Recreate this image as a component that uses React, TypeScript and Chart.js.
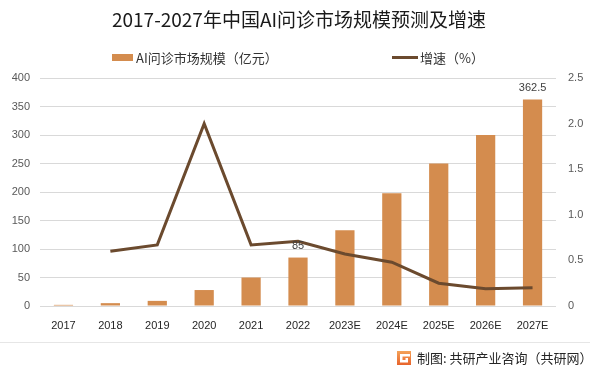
import React, { useEffect, useRef } from "react";
import { Chart, registerables } from "chart.js";

Chart.register(...registerables);

const categories = ["2017", "2018", "2019", "2020", "2021", "2022", "2023E", "2024E", "2025E", "2026E", "2027E"];
const marketSize = [2, 5, 9, 28, 50, 85, 133, 198, 250, 300, 362.5];
const growthRate = [null, 0.6, 0.67, 2.0, 0.67, 0.71, 0.57, 0.48, 0.25, 0.19, 0.2];
const labeledIndices = [5, 10];
const leftTicks = [0, 50, 100, 150, 200, 250, 300, 350, 400];
const rightTicks = [0, 0.5, 1, 1.5, 2, 2.5];

const TITLE = "2017-2027年中国AI问诊市场规模预测及增速";
const BAR_LABEL = "AI问诊市场规模（亿元）";
const LINE_LABEL = "增速（%）";
const SOURCE = "制图: 共研产业咨询（共研网）";

const BAR_COLOR = "#D48C4E";
const LINE_COLOR = "#6B4A2E";
const FONT = "'Noto Sans CJK SC', 'Noto Sans', sans-serif";
const TICK_FONT = "'Liberation Sans', 'Noto Sans CJK SC', sans-serif";

const decorPlugin = {
  id: "decor",
  afterDraw(chart: any) {
    const ctx = chart.ctx as CanvasRenderingContext2D;
    ctx.save();
    // title
    ctx.fillStyle = "#1a1a1a";
    ctx.font = `19px ${FONT}`;
    ctx.textAlign = "center";
    ctx.textBaseline = "middle";
    ctx.fillText(TITLE, 299, 20);

    // legend
    ctx.font = `13px ${FONT}`;
    ctx.textAlign = "left";
    ctx.fillStyle = BAR_COLOR;
    ctx.fillRect(112, 54, 21, 7);
    ctx.fillStyle = "#333";
    ctx.fillText(BAR_LABEL, 136, 58);
    ctx.strokeStyle = LINE_COLOR;
    ctx.lineWidth = 3;
    ctx.beginPath();
    ctx.moveTo(392, 57.5);
    ctx.lineTo(418, 57.5);
    ctx.stroke();
    ctx.fillStyle = "#333";
    ctx.fillText(LINE_LABEL, 420, 58);

    // data labels
    const meta = chart.getDatasetMeta(0);
    ctx.font = `11px ${TICK_FONT}`;
    ctx.fillStyle = "#404040";
    ctx.textAlign = "center";
    ctx.textBaseline = "bottom";
    labeledIndices.forEach((i) => {
      const el = meta.data[i];
      if (!el) return;
      ctx.fillText(String(marketSize[i]), el.x, el.y - 6);
    });

    // footer separator
    ctx.strokeStyle = "#E6E6E6";
    ctx.lineWidth = 1;
    ctx.beginPath();
    ctx.moveTo(0, 342.5);
    ctx.lineTo(590, 342.5);
    ctx.stroke();

    // logo
    const lx = 397, ly = 351;
    const grad = ctx.createLinearGradient(lx, ly, lx, ly + 14);
    grad.addColorStop(0, "#F4A259");
    grad.addColorStop(1, "#E8632B");
    ctx.fillStyle = grad;
    ctx.fillRect(lx, ly, 14, 14);
    ctx.fillStyle = "#fff";
    ctx.fillRect(lx + 3, ly + 3, 10, 2.5);
    ctx.fillRect(lx + 3, ly + 3, 2.5, 8);
    ctx.fillRect(lx + 3, ly + 9, 8, 2.5);
    ctx.fillRect(lx + 8.5, ly + 7, 2.5, 4);

    // source
    ctx.fillStyle = "#262626";
    ctx.font = `13px ${FONT}`;
    ctx.textAlign = "left";
    ctx.textBaseline = "middle";
    ctx.fillText(SOURCE, 417, 358);
    ctx.restore();
  },
};

export default function App() {
  const ref = useRef<HTMLCanvasElement>(null);
  useEffect(() => {
    document.body.style.margin = "0";
    const canvas = ref.current!;
    const chart = new Chart(canvas, {
      type: "bar",
      data: {
        labels: categories,
        datasets: [
          {
            type: "bar",
            label: BAR_LABEL,
            data: marketSize,
            backgroundColor: BAR_COLOR,
            yAxisID: "y",
            barPercentage: 0.41,
            categoryPercentage: 1,
            order: 2,
          },
          {
            type: "line",
            label: LINE_LABEL,
            data: growthRate as any,
            borderColor: LINE_COLOR,
            backgroundColor: LINE_COLOR,
            borderWidth: 3,
            pointRadius: 0,
            tension: 0,
            yAxisID: "y1",
            order: 1,
          },
        ],
      },
      options: {
        responsive: false,
        animation: false,
        layout: { padding: { top: 78, bottom: 32, left: 0, right: 0 } },
        plugins: { legend: { display: false }, tooltip: { enabled: false }, title: { display: false } },
        scales: {
          x: {
            grid: { display: false, drawTicks: false },
            border: { display: false },
            ticks: { color: "#262626", font: { family: TICK_FONT, size: 11 }, padding: 13, maxRotation: 0, autoSkip: false },
            afterFit(scale: any) { scale.height = 36; },
          },
          y: {
            position: "left",
            min: 0,
            max: 400,
            afterBuildTicks(scale: any) { scale.ticks = leftTicks.map((v) => ({ value: v })); },
            grid: { color: "#D9D9D9", drawTicks: false, lineWidth: 1 },
            border: { display: false },
            ticks: { color: "#595959", font: { family: TICK_FONT, size: 11 }, padding: 10 },
            afterFit(scale: any) { scale.width = 40; },
          },
          y1: {
            position: "right",
            min: 0,
            max: 2.5,
            afterBuildTicks(scale: any) { scale.ticks = rightTicks.map((v) => ({ value: v })); },
            grid: { display: false, drawTicks: false },
            border: { display: false },
            ticks: { color: "#595959", font: { family: TICK_FONT, size: 11 }, padding: 12 },
            afterFit(scale: any) { scale.width = 42; },
          },
        },
      },
      plugins: [decorPlugin],
    });
    return () => chart.destroy();
  }, []);
  return <canvas ref={ref} width={598} height={374} style={{ display: "block" }} />;
}
